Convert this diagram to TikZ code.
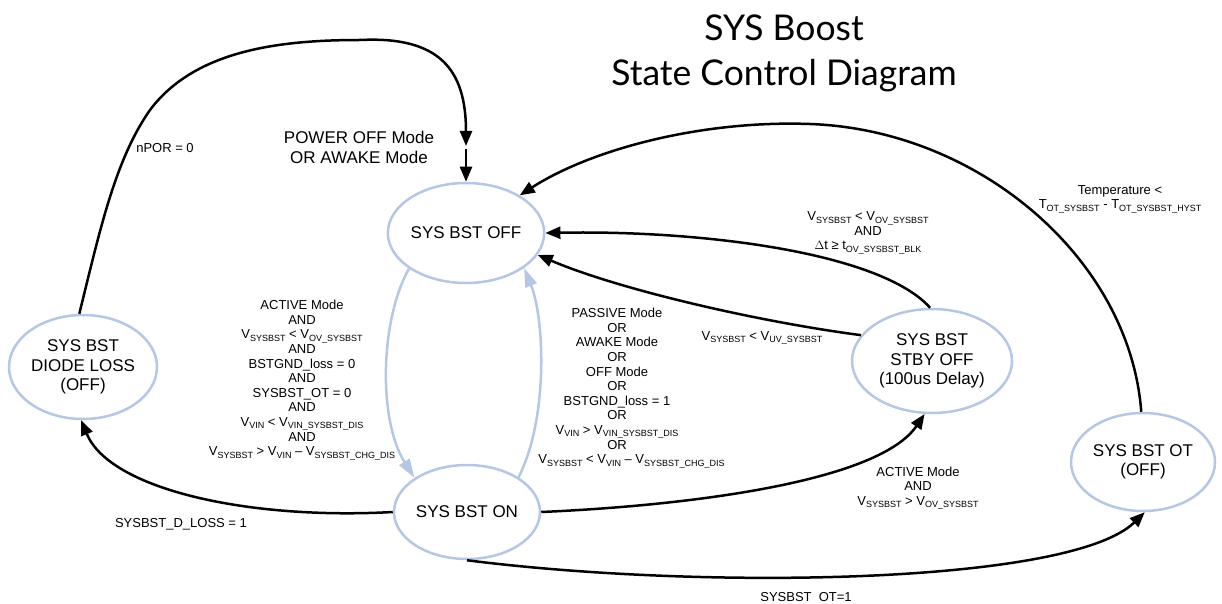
\documentclass[tikz,border=0pt]{standalone}
\usepackage{fontspec}
\setmainfont{Liberation Sans}
\newfontfamily\titlefont{Lato}
\usetikzlibrary{arrows.meta,shapes.geometric}
\definecolor{stateblue}{RGB}{181,199,228}
% lowered, smaller subscript text for signal names
\newcommand{\sbs}[1]{\raisebox{-0.35ex}{\fontsize{9}{9}\selectfont #1}}

\begin{document}
\begin{tikzpicture}[x=1pt,y=-1pt,
  state/.style={ellipse, draw=stateblue, line width=2.5pt, inner sep=0pt,
    align=center, font=\fontsize{17}{19.5}\selectfont},
  conn/.style={line width=2.5pt, -{Triangle[length=15pt,width=12pt]}},
  bconn/.style={line width=2.5pt, draw=stateblue,
    -{Triangle[length=19pt,width=12pt,fill=stateblue]}},
  lbl/.style={align=center, inner sep=0pt, font=\fontsize{13}{14.6}\selectfont},
]
\useasboundingbox (0,0) rectangle (1222,604);

% title
\node[align=center, font=\titlefont\fontsize{35.5}{45}\selectfont] (title) at (784,53)
  {SYS Boost\\State Control Diagram};

% states
\node[state, minimum width=148pt, minimum height=100pt] (off) at (466,233) {SYS BST OFF};
\node[state, minimum width=146pt, minimum height=94pt] (on) at (467,512) {SYS BST ON};
\node[state, minimum width=148pt, minimum height=104pt] (diode) at (83,367)
  {SYS BST\\DIODE LOSS\\(OFF)};
\node[state, minimum width=160pt, minimum height=104pt] (stby) at (932,361)
  {SYS BST\\STBY OFF\\(100us Delay)};
\node[state, minimum width=144pt, minimum height=98pt] (ot) at (1143,462)
  {SYS BST OT\\(OFF)};

% free ends of the power-on path
\coordinate (pwrend) at (466,146);
\coordinate (pwrstart) at (466,149);

% connectors
\draw[conn] (diode.94) .. controls (100,230) and (115,160) .. (150,110)
  .. controls (195,50) and (280,40) .. (360,40)
  .. controls (440,36) and (466,70) .. (pwrend);
\draw[conn] (pwrstart) -- (off.north);

\draw[bconn] (off.212) .. controls (380,320) and (378,420) .. (on.147);
\draw[bconn] (on.34) .. controls (548,420) and (545,320) .. (off.-31);

\draw[conn] (stby.92) .. controls (880,252) and (700,230) .. (off.east);
\draw[conn] (stby.160) .. controls (760,322) and (620,290) .. (off.-17);

\draw[conn] (ot.92) .. controls (1130,260) and (980,130) .. (810,124)
  .. controls (700,120) and (590,150) .. (off.35);

\draw[conn] (on.east) .. controls (700,505) and (880,480) .. (stby.-98);
\draw[conn] (on.south) .. controls (700,590) and (1070,585) .. (ot.-88);
\draw[conn] (on.west) .. controls (250,520) and (110,490) .. (diode.-92);

% transition labels
\node[align=center, inner sep=0pt, font=\fontsize{17}{20}\selectfont] (lblpower) at (359,147)
  {POWER OFF Mode\\OR AWAKE Mode};
\node[lbl] (lblnpor) at (165,148) {nPOR = 0};
\node[lbl] (lblon) at (302,380) {ACTIVE Mode\\AND\\
  V\sbs{SYSBST} < V\sbs{OV\_SYSBST}\\AND\\BSTGND\_loss = 0\\AND\\SYSBST\_OT = 0\\AND\\
  V\sbs{VIN} < V\sbs{VIN\_SYSBST\_DIS}\\AND\\
  V\sbs{SYSBST} > V\sbs{VIN} -- V\sbs{SYSBST\_CHG\_DIS}};
\node[lbl] (lbloff) at (617,388) {PASSIVE Mode\\OR\\AWAKE Mode\\OR\\OFF Mode\\OR\\
  BSTGND\_loss = 1\\OR\\V\sbs{VIN} > V\sbs{VIN\_SYSBST\_DIS}\\OR\\
  \hspace*{29pt}V\sbs{SYSBST} < V\sbs{VIN} -- V\sbs{SYSBST\_CHG\_DIS}};
\node[lbl] (lblov) at (868,233) {V\sbs{SYSBST} < V\sbs{OV\_SYSBST}\\AND\\
  $\Delta$t ≥ t\sbs{OV\_SYSBST\_BLK}};
\node[lbl] (lbluv) at (762,338) {V\sbs{SYSBST} < V\sbs{UV\_SYSBST}};
\node[lbl] (lbltemp) at (1120,199) {Temperature <\\T\sbs{OT\_SYSBST} - T\sbs{OT\_SYSBST\_HYST}};
\node[lbl] (lblactive) at (918,488) {ACTIVE Mode\\AND\\V\sbs{SYSBST} > V\sbs{OV\_SYSBST}};
\node[lbl] (lbldloss) at (181,524) {SYSBST\_D\_LOSS = 1};
\node[lbl] (lblot) at (806,597) {SYSBST\hspace{0.55em}OT=1};
\end{tikzpicture}
\end{document}
